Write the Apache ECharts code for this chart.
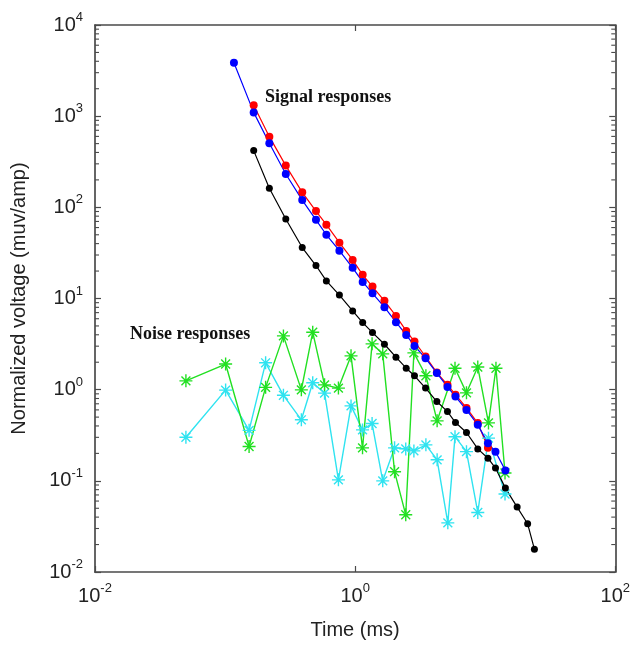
<!DOCTYPE html>
<html><head><meta charset="utf-8">
<script src="https://cdn.jsdelivr.net/npm/echarts@6/dist/echarts.min.js"></script>
<style>html,body{margin:0;padding:0;background:#fff}#c{width:633px;height:648px}</style>
</head><body><div id="c"></div>
<script>
// ---- data ----
const tSignal = [0.117, 0.166, 0.219, 0.293, 0.392, 0.5, 0.601, 0.757, 0.957, 1.143, 1.36, 1.68, 2.06, 2.47, 2.86, 3.48, 4.25, 5.13, 5.91, 7.18, 8.77, 10.5, 12.0, 14.3, 17.6, 21.2, 23.9];
// blue: tSignal[0..23]
const blueVals = [3860, 1100, 505, 232, 120, 73, 50, 33.5, 21.7, 15.2, 11.4, 8.04, 5.5, 3.99, 3.02, 2.21, 1.52, 1.07, 0.839, 0.6, 0.411, 0.259, 0.209, 0.13];
// red: tSignal[1..21]
const redVals = [1316, 596, 287, 146, 91, 64.6, 41, 26.5, 18.2, 13.5, 9.42, 6.44, 4.41, 3.37, 2.31, 1.54, 1.13, 0.88, 0.63, 0.43, 0.23];
// black: tSignal[1..26]
const blackVals = [419, 162, 74.6, 36.2, 23, 15.6, 10.9, 7.31, 5.44, 4.23, 3.15, 2.27, 1.72, 1.42, 1.04, 0.741, 0.575, 0.436, 0.339, 0.224, 0.177, 0.138, 0.0832, 0.0515, 0.0338, 0.0178];
const tNoise = [0.050, 0.101, 0.153, 0.205, 0.281, 0.386, 0.472, 0.582, 0.744, 0.93, 1.14, 1.35, 1.63, 2.01, 2.45, 2.83, 3.50, 4.27, 5.16, 5.86, 7.18, 8.77, 10.6, 12.1, 14.2];
const greenVals = [1.25, 1.91, 0.238, 1.06, 3.89, 0.995, 4.27, 1.13, 1.04, 2.35, 0.23, 3.18, 2.47, 0.126, 0.0424, 2.53, 1.42, 0.455, null, 1.72, 0.923, 1.77, 0.432, 1.72, 0.122];
const cyanVals = [0.301, 0.989, 0.358, 1.97, 0.867, 0.467, 1.19, 0.916, 0.1025, 0.664, 0.362, 0.425, 0.100, 0.230, 0.224, 0.213, 0.248, 0.170, 0.0346, 0.305, 0.209, 0.045, 0.294, null, 0.0718];
const xRange = [0.01, 100];
const yRange = [0.01, 10000];
const xTickVals = [0.01, 1, 100];
const yTickVals = [0.01, 0.1, 1, 10, 100, 1000, 10000];
const yMinorMult = [2, 3, 4, 5, 6, 7, 8, 9];
const yDecades = [0.01, 0.1, 1, 10, 100, 1000];

function pairs(ts, vs, off) { return vs.map((v, i) => [ts[i + off], v]); }

const STAR = 'path://M0,6L12,6M6,0L6,12M1.9,1.9L10.1,10.1M10.1,1.9L1.9,10.1';
const FRAME = '#4a4a4a';
const labelFmt = v => {
  const e = Math.round(Math.log10(v));
  return '{b|10}{s|' + e + '}';
};
const rich = {
  b: { fontSize: 20, fontFamily: 'Liberation Sans, Arial', color: '#222', lineHeight: 28 },
  s: { fontSize: 13, fontFamily: 'Liberation Sans, Arial', color: '#222', lineHeight: 14, verticalAlign: 'top' }
};

const chart = echarts.init(document.getElementById('c'), null, { renderer: 'canvas' });
const axisCommon = {
  type: 'log', logBase: 10,
  axisLine: { show: true, onZero: false, lineStyle: { color: FRAME, width: 1.7 } },
  axisTick: { show: true, inside: true, length: 6, lineStyle: { color: FRAME, width: 1.2 } },
  splitLine: { show: false }
};
chart.setOption({
  animation: false,
  backgroundColor: '#fff',
  grid: { left: 95, right: 17, top: 25, bottom: 76 },
  xAxis: [
    Object.assign({}, axisCommon, {
      min: xRange[0], max: xRange[1], position: 'bottom',
      axisTick: Object.assign({}, axisCommon.axisTick, { customValues: xTickVals }),
      axisLabel: { formatter: labelFmt, rich: rich, margin: 10, customValues: xTickVals },
      name: 'Time (ms)', nameLocation: 'middle', nameGap: 48,
      nameTextStyle: { fontSize: 20, fontFamily: 'Liberation Sans, Arial', color: '#222' }
    }),
    Object.assign({}, axisCommon, {
      min: xRange[0], max: xRange[1], position: 'top',
      axisTick: Object.assign({}, axisCommon.axisTick, { customValues: xTickVals }),
      axisLabel: { show: false }
    })
  ],
  yAxis: [
    Object.assign({}, axisCommon, {
      min: yRange[0], max: yRange[1], position: 'left',
      axisTick: Object.assign({}, axisCommon.axisTick, { customValues: yTickVals }),
      axisLabel: { formatter: labelFmt, rich: rich, margin: 12, customValues: yTickVals },
      name: 'Normalized voltage (muv/amp)', nameLocation: 'middle', nameGap: 66,
      nameTextStyle: { fontSize: 20, fontFamily: 'Liberation Sans, Arial', color: '#222' }
    }),
    Object.assign({}, axisCommon, {
      min: yRange[0], max: yRange[1], position: 'right',
      axisTick: Object.assign({}, axisCommon.axisTick, { customValues: yTickVals }),
      axisLabel: { show: false }
    })
  ],
  series: [
    { type: 'line', data: pairs(tNoise, cyanVals, 0), connectNulls: true, symbol: STAR, symbolSize: 13,
      lineStyle: { color: '#2fe3f0', width: 1.4 }, itemStyle: { color: '#2fe3f0', borderColor: '#2fe3f0', borderWidth: 1.4 } },
    { type: 'line', data: pairs(tNoise, greenVals, 0), connectNulls: true, symbol: STAR, symbolSize: 13,
      lineStyle: { color: '#22e022', width: 1.4 }, itemStyle: { color: '#22e022', borderColor: '#22e022', borderWidth: 1.4 } },
    { type: 'line', data: pairs(tSignal, blackVals, 1), symbol: 'circle', symbolSize: 7,
      lineStyle: { color: '#000', width: 1.2 }, itemStyle: { color: '#000' } },
    { type: 'line', data: pairs(tSignal, redVals, 1), symbol: 'circle', symbolSize: 8,
      lineStyle: { color: '#ff0000', width: 1.2 }, itemStyle: { color: '#ff0000' } },
    { type: 'line', data: pairs(tSignal, blueVals, 0), symbol: 'circle', symbolSize: 8,
      lineStyle: { color: '#0000ff', width: 1.2 }, itemStyle: { color: '#0000ff' } }
  ],
  graphic: [
    { type: 'text', left: 265, top: 88, style: { text: 'Signal responses', fontSize: 18, fontWeight: 'bold', fontFamily: 'Liberation Serif, Times New Roman', fill: '#111' } },
    { type: 'text', left: 130, top: 325, style: { text: 'Noise responses', fontSize: 18, fontWeight: 'bold', fontFamily: 'Liberation Serif, Times New Roman', fill: '#111' } }
  ]
});

// minor log ticks on left and right frame (axis decoration)
const xl = chart.convertToPixel({ xAxisIndex: 0 }, xRange[0]);
const xr = chart.convertToPixel({ xAxisIndex: 0 }, xRange[1]);
const minor = [];
yDecades.forEach(d => yMinorMult.forEach(m => {
  const py = chart.convertToPixel({ yAxisIndex: 0 }, d * m);
  minor.push({ type: 'line', shape: { x1: xl, y1: py, x2: xl + 4, y2: py }, style: { stroke: FRAME, lineWidth: 1.1 }, silent: true });
  minor.push({ type: 'line', shape: { x1: xr, y1: py, x2: xr - 4, y2: py }, style: { stroke: FRAME, lineWidth: 1.1 }, silent: true });
}));
chart.setOption({ graphic: minor.map((g, i) => Object.assign({ id: 'm' + i }, g)) });
</script></body></html>
